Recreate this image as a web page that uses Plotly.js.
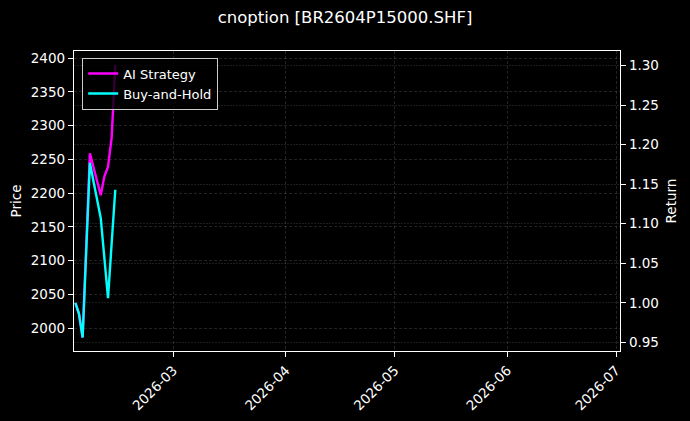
<!DOCTYPE html>
<html>
<head>
<meta charset="utf-8">
<script src="https://cdn.plot.ly/plotly-3.0.1.min.js"></script>
<style>
  html, body { margin: 0; padding: 0; background: #000; }
  #chart { width: 690px; height: 421px; }
</style>
</head>
<body>
<div id="chart"></div>
<script>
// trading days shown on the chart
var dates = ['2026-02-02', '2026-02-03', '2026-02-04', '2026-02-05', '2026-02-06',
             '2026-02-09', '2026-02-10', '2026-02-11', '2026-02-12', '2026-02-13'];
// cumulative return
var aiStrategy  = [1.000, 0.986, 0.956, 1.065, 1.189, 1.136, 1.160, 1.172, 1.209, 1.301];
var buyAndHold  = [1.000, 0.986, 0.956, 1.065, 1.177, 1.107, 1.060, 1.006, 1.075, 1.143];

var priceRange  = [1966, 2410.4];
var returnRange = [0.939, 1.3186];
var dateRange   = ['2026-02-01 15:00', '2026-07-02 02:00'];

var font = {family: 'DejaVu Sans, sans-serif', color: '#ffffff', size: 13.5};

// empty trace so the Price axis on the left gets drawn
var priceAnchor = {
  x: [dates[0]],
  y: [null],
  type: 'scatter',
  mode: 'lines',
  showlegend: false,
  hoverinfo: 'none'
};
var trace1 = {
  x: dates,
  y: aiStrategy,
  name: 'AI Strategy',
  type: 'scatter',
  mode: 'lines',
  yaxis: 'y2',
  line: {color: '#ff00ff', width: 2.4},
  hoverinfo: 'none'
};
var trace2 = {
  x: dates,
  y: buyAndHold,
  name: 'Buy-and-Hold',
  type: 'scatter',
  mode: 'lines',
  yaxis: 'y2',
  line: {color: '#00ffff', width: 2.4},
  hoverinfo: 'none'
};

var data = [priceAnchor, trace1, trace2];
var layout = {
  width: 690,
  height: 421,
  paper_bgcolor: '#000000',
  plot_bgcolor: '#000000',
  font: font,
  margin: {t: 51, b: 70, l: 74, r: 70},
  title: {
    text: 'cnoption [BR2604P15000.SHF]',
    font: {family: 'DejaVu Sans, sans-serif', color: '#ffffff', size: 16.5},
    x: 0.5, xanchor: 'center', y: 0.96, yanchor: 'middle'
  },
  showlegend: true,
  legend: {
    x: 0.015, y: 0.978, xanchor: 'left', yanchor: 'top',
    bgcolor: 'rgba(0,0,0,0.8)',
    bordercolor: '#cccccc',
    borderwidth: 1,
    itemwidth: 30,
    font: {family: 'DejaVu Sans, sans-serif', color: '#ffffff', size: 13}
  },
  xaxis: {
    type: 'date',
    range: dateRange,
    tick0: '2026-01-01',
    dtick: 'M1',
    tickformat: '%Y-%m',
    tickangle: -45,
    ticks: 'outside',
    ticklen: 5,
    tickwidth: 1,
    tickcolor: '#ffffff',
    showline: true,
    linecolor: '#ffffff',
    linewidth: 1.2,
    mirror: true,
    showgrid: true,
    gridcolor: 'rgba(255,255,255,0.22)',
    gridwidth: 0.6,
    griddash: '3px,2px',
    zeroline: false,
    tickfont: font
  },
  yaxis: {
    title: {text: 'Price', font: font, standoff: 6},
    range: priceRange,
    dtick: 50,
    tick0: 2000,
    ticks: 'outside',
    ticklen: 5,
    tickwidth: 1,
    tickcolor: '#ffffff',
    showline: true,
    linecolor: '#ffffff',
    linewidth: 1.2,
    showgrid: true,
    gridcolor: 'rgba(255,255,255,0.22)',
    gridwidth: 0.6,
    griddash: '3px,2px',
    zeroline: false,
    tickfont: font
  },
  yaxis2: {
    title: {text: 'Return', font: font, standoff: 8},
    overlaying: 'y',
    side: 'right',
    anchor: 'x',
    range: returnRange,
    dtick: 0.05,
    tick0: 0,
    tickformat: '.2f',
    ticks: 'outside',
    ticklen: 5,
    tickwidth: 1,
    tickcolor: '#ffffff',
    showline: true,
    linecolor: '#ffffff',
    linewidth: 1.2,
    showgrid: true,
    gridcolor: 'rgba(255,255,255,0.18)',
    gridwidth: 0.6,
    griddash: '2px,1px',
    zeroline: false,
    tickfont: font
  }
};

var config = {responsive: false, displayModeBar: false, staticPlot: true};

Plotly.newPlot('chart', data, layout, config);
</script>
</body>
</html>
